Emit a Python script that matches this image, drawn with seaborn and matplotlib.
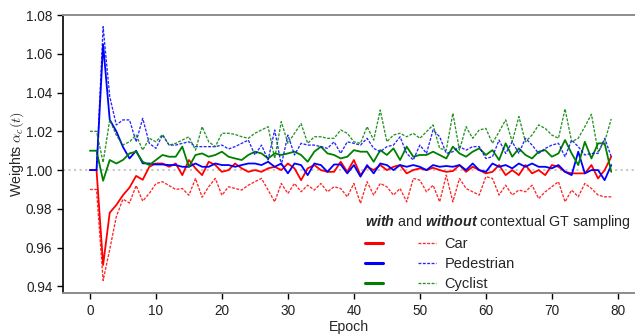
import matplotlib
matplotlib.use('Agg')
import matplotlib.pyplot as plt
from matplotlib.font_manager import FontProperties
import numpy as np
import pandas as pd
import seaborn as sns

epochs = list(range(80))
classes = ['Car', 'Pedestrian', 'Cyclist']
colors = {'Car': '#ff0000', 'Pedestrian': '#0000ff', 'Cyclist': '#008000'}

# weights trained with contextual GT sampling
car_with = [1.000, 1.000, 0.951, 0.978, 0.982, 0.987, 0.991, 0.997, 0.995, 1.0017,
            1.0034, 1.0034, 1.0017, 1.0034, 0.9974, 1.0052, 1.0009, 0.9974, 1.0043, 1.0026,
            0.9991, 1.000, 1.0034, 1.0009, 0.9991, 1.000, 0.9991, 1.0009, 1.0017, 1.000,
            1.0034, 1.0009, 0.9948, 1.0009, 1.0026, 1.000, 0.9991, 0.9991, 1.0043, 0.9991,
            1.0052, 0.9974, 1.0017, 1.000, 1.0026, 1.000, 1.0017, 1.0026, 0.9983, 1.000,
            1.0009, 1.000, 1.0012, 1.000, 0.9991, 0.9995, 1.0026, 0.9991, 1.0017, 1.000,
            0.9983, 0.9991, 1.0026, 0.9974, 1.000, 0.9974, 1.0026, 0.9983, 1.000, 0.9974,
            1.0026, 1.0017, 0.9991, 0.9983, 0.9983, 0.9983, 1.0026, 0.9957, 1.000, 1.0069]
ped_with = [1.000, 1.000, 1.065, 1.026, 1.020, 1.012, 1.006, 1.010, 1.0035, 1.0034,
            1.0029, 1.0029, 1.0026, 1.0026, 1.0017, 1.0017, 1.0034, 1.0017, 1.0017, 1.0034,
            1.0026, 1.0026, 1.0017, 1.0026, 1.0034, 1.0034, 1.0026, 1.0043, 1.0017, 1.0034,
            0.9983, 1.0034, 1.0026, 0.9974, 1.0034, 1.0026, 0.9991, 1.0029, 1.0029, 0.9983,
            1.0026, 0.9966, 1.0026, 0.9983, 1.0034, 1.0026, 1.000, 1.0026, 1.0017, 1.0026,
            1.0017, 1.000, 1.0026, 1.0017, 1.0021, 1.0017, 1.0026, 1.000, 1.0034, 1.000,
            0.9991, 1.0034, 1.0017, 1.0026, 1.0009, 1.0034, 1.0017, 1.0034, 1.0017, 1.0017,
            1.0009, 1.0026, 0.9991, 0.9974, 1.0095, 0.9983, 1.000, 1.000, 0.9948, 1.0026]
cyc_with = [1.010, 1.010, 0.9945, 1.0052, 1.0034, 1.0052, 1.0086, 1.0095, 1.0043, 1.0026,
            1.0052, 1.0078, 1.0069, 1.0069, 1.0121, 1.0017, 1.0078, 1.0086, 1.0069, 1.0078,
            1.0095, 1.0069, 1.006, 1.0052, 1.0078, 1.0095, 1.0086, 1.006, 1.0086, 1.0078,
            1.0086, 1.0095, 1.0078, 1.0043, 1.0095, 1.0121, 1.0086, 1.0078, 1.006, 1.0069,
            1.0103, 1.0095, 1.0095, 1.0043, 1.0103, 1.0078, 1.0112, 1.0052, 1.0121, 1.0069,
            1.0078, 1.0078, 1.0095, 1.0078, 1.006, 1.0121, 1.0086, 1.0069, 1.0095, 1.0112,
            1.0078, 1.0103, 1.0052, 1.0138, 1.0069, 1.0112, 1.0078, 1.006, 1.0095, 1.0103,
            1.0069, 1.0086, 1.0155, 1.0086, 1.0026, 1.0146, 1.006, 1.0138, 1.0138, 0.9991]

# weights trained without contextual GT sampling
car_without = [0.990, 0.990, 0.943, 0.959, 0.976, 0.985, 0.983, 0.992, 0.984, 0.988,
               0.993, 0.994, 0.992, 0.990, 0.9905, 0.987, 0.9957, 0.986, 0.9914, 0.9957,
               0.987, 0.9914, 0.9905, 0.9897, 0.9922, 0.994, 0.9957, 0.9897, 0.9836, 0.9931,
               0.9879, 0.9931, 0.9888, 0.9922, 0.9897, 0.9931, 0.9888, 0.9914, 0.9905, 0.9862,
               0.9931, 0.9828, 0.994, 0.9871, 0.9931, 0.9914, 0.9871, 0.9905, 0.9836, 0.9957,
               0.9948, 0.9888, 0.9922, 0.9836, 0.9974, 0.9836, 0.9957, 0.9905, 0.9888, 0.9871,
               0.9966, 0.9957, 0.9871, 0.9922, 0.9871, 0.9897, 0.9888, 0.9922, 0.9853, 0.9888,
               0.9914, 0.994, 0.9836, 0.9897, 0.9862, 0.9931, 0.9905, 0.9871, 0.9862, 0.9862]
ped_without = [1.000, 1.000, 1.074, 1.038, 1.0233, 1.0259, 1.0259, 1.0146, 1.0267, 1.0138,
               1.0112, 1.0181, 1.0129, 1.0129, 1.0138, 1.0146, 1.0121, 1.0121, 1.0121, 1.0121,
               1.0129, 1.0109, 1.0121, 1.0138, 1.0155, 1.0078, 1.0129, 1.0052, 1.0207, 1.0026,
               1.0181, 1.0078, 1.0138, 1.0129, 1.0129, 1.0121, 1.0112, 1.0146, 1.0086, 1.0146,
               1.0138, 1.0129, 1.0164, 1.0112, 1.0095, 1.0121, 1.0129, 1.0172, 1.0086, 1.0052,
               1.0129, 1.0086, 1.0207, 1.0172, 1.0086, 1.0095, 1.0121, 1.0103, 1.0121, 1.0121,
               1.006, 1.0069, 1.0155, 1.0086, 1.0146, 1.0086, 1.0164, 1.0129, 1.0086, 1.0112,
               1.0129, 1.0138, 1.0069, 1.0155, 1.0121, 1.0078, 1.0086, 1.0086, 1.0164, 1.0069]
cyc_without = [1.020, 1.020, 1.004, 1.0259, 1.018, 1.013, 1.0146, 1.0181, 1.0103, 1.0164,
               1.0146, 1.0184, 1.0129, 1.0138, 1.0155, 1.0172, 1.0103, 1.0224, 1.0146, 1.0121,
               1.019, 1.019, 1.0184, 1.0172, 1.0164, 1.019, 1.0207, 1.0224, 1.006, 1.025,
               1.0138, 1.019, 1.024, 1.0138, 1.0172, 1.0172, 1.0164, 1.0164, 1.0207, 1.019,
               1.0146, 1.0138, 1.0224, 1.0155, 1.031, 1.0146, 1.0181, 1.019, 1.0172, 1.019,
               1.0164, 1.0198, 1.0233, 1.0112, 1.0103, 1.0293, 1.0103, 1.0224, 1.0164, 1.0207,
               1.0215, 1.0138, 1.0198, 1.0259, 1.0146, 1.0276, 1.0146, 1.0181, 1.0233, 1.0215,
               1.0181, 1.0164, 1.0316, 1.0146, 1.0164, 1.0224, 1.0288, 1.0095, 1.0146, 1.0264]


def to_long(car, ped, cyc):
    return pd.DataFrame({
        'Epoch': epochs * 3,
        'Weight': car + ped + cyc,
        'Class': ['Car'] * 80 + ['Pedestrian'] * 80 + ['Cyclist'] * 80,
    })


df_with = to_long(car_with, ped_with, cyc_with)
df_without = to_long(car_without, ped_without, cyc_without)

sns.set_style('ticks')
plt.rcParams['font.family'] = ['Liberation Sans', 'DejaVu Sans']
plt.rcParams['mathtext.fontset'] = 'custom'
plt.rcParams['mathtext.rm'] = 'Liberation Sans'
plt.rcParams['mathtext.it'] = 'Liberation Sans:italic'
plt.rcParams['mathtext.bf'] = 'Liberation Sans:bold'
plt.rcParams['mathtext.bfit'] = 'Liberation Sans:bold:italic'

fig, ax = plt.subplots(figsize=(6.35, 3.35), dpi=100)
fig.subplots_adjust(left=0.099, right=1.0, top=0.955, bottom=0.125)

ax.axhline(1.0, color='#c8c8c8', linestyle=':', linewidth=1.5, zorder=1)

sns.lineplot(data=df_with, x='Epoch', y='Weight', hue='Class', hue_order=classes,
             palette=colors, linewidth=1.3, legend=False, ax=ax)
sns.lineplot(data=df_without, x='Epoch', y='Weight', hue='Class', hue_order=classes,
             palette=colors, linewidth=0.95, legend=False, ax=ax)
lines = ax.get_lines()[1:]
for ln in lines[3:]:
    ln.set_dashes((2.2, 1.1))
    ln.set_alpha(0.85)

ax.set_xlim(-4.1, 82.6)
ax.set_ylim(0.9365, 1.08)
ax.set_xticks(np.arange(0, 81, 10))
ax.set_yticks(np.arange(0.94, 1.081, 0.02))
ax.yaxis.set_major_formatter(matplotlib.ticker.FormatStrFormatter('%.2f'))
ax.tick_params(labelsize=9.8, length=4, width=1, color='black', colors='#222222')
ax.set_xlabel('Epoch', fontsize=10.2, labelpad=2)
ax.set_ylabel(r'Weights $\alpha_c(t)$', fontsize=10.2, math_fontfamily='cm', labelpad=0)

ax.spines['left'].set_color('black')
ax.spines['left'].set_linewidth(1.2)
for side in ['top', 'bottom']:
    ax.spines[side].set_visible(True)
    ax.spines[side].set_color('#8c8c8c')
    ax.spines[side].set_linewidth(1.4)
ax.spines['right'].set_visible(False)

title_fp = FontProperties(family='Liberation Sans', size=10.3, math_fontfamily='custom')
leg = ax.legend(lines[:3] + lines[3:], ['', '', '', 'Car', 'Pedestrian', 'Cyclist'],
                ncol=2, frameon=False, loc='lower right', bbox_to_anchor=(1.008, -0.025),
                title=r'$\mathbfit{with}$ and $\mathbfit{without}$ contextual GT sampling',
                title_fontproperties=title_fp, fontsize=10.5, handlelength=1.2,
                handletextpad=0.6, columnspacing=1.85, labelspacing=0.42,
                alignment='left', borderaxespad=0.2)
for h in leg.legend_handles[:3]:
    h.set_linewidth(2.2)

fig.savefig('out.png', dpi=100)
